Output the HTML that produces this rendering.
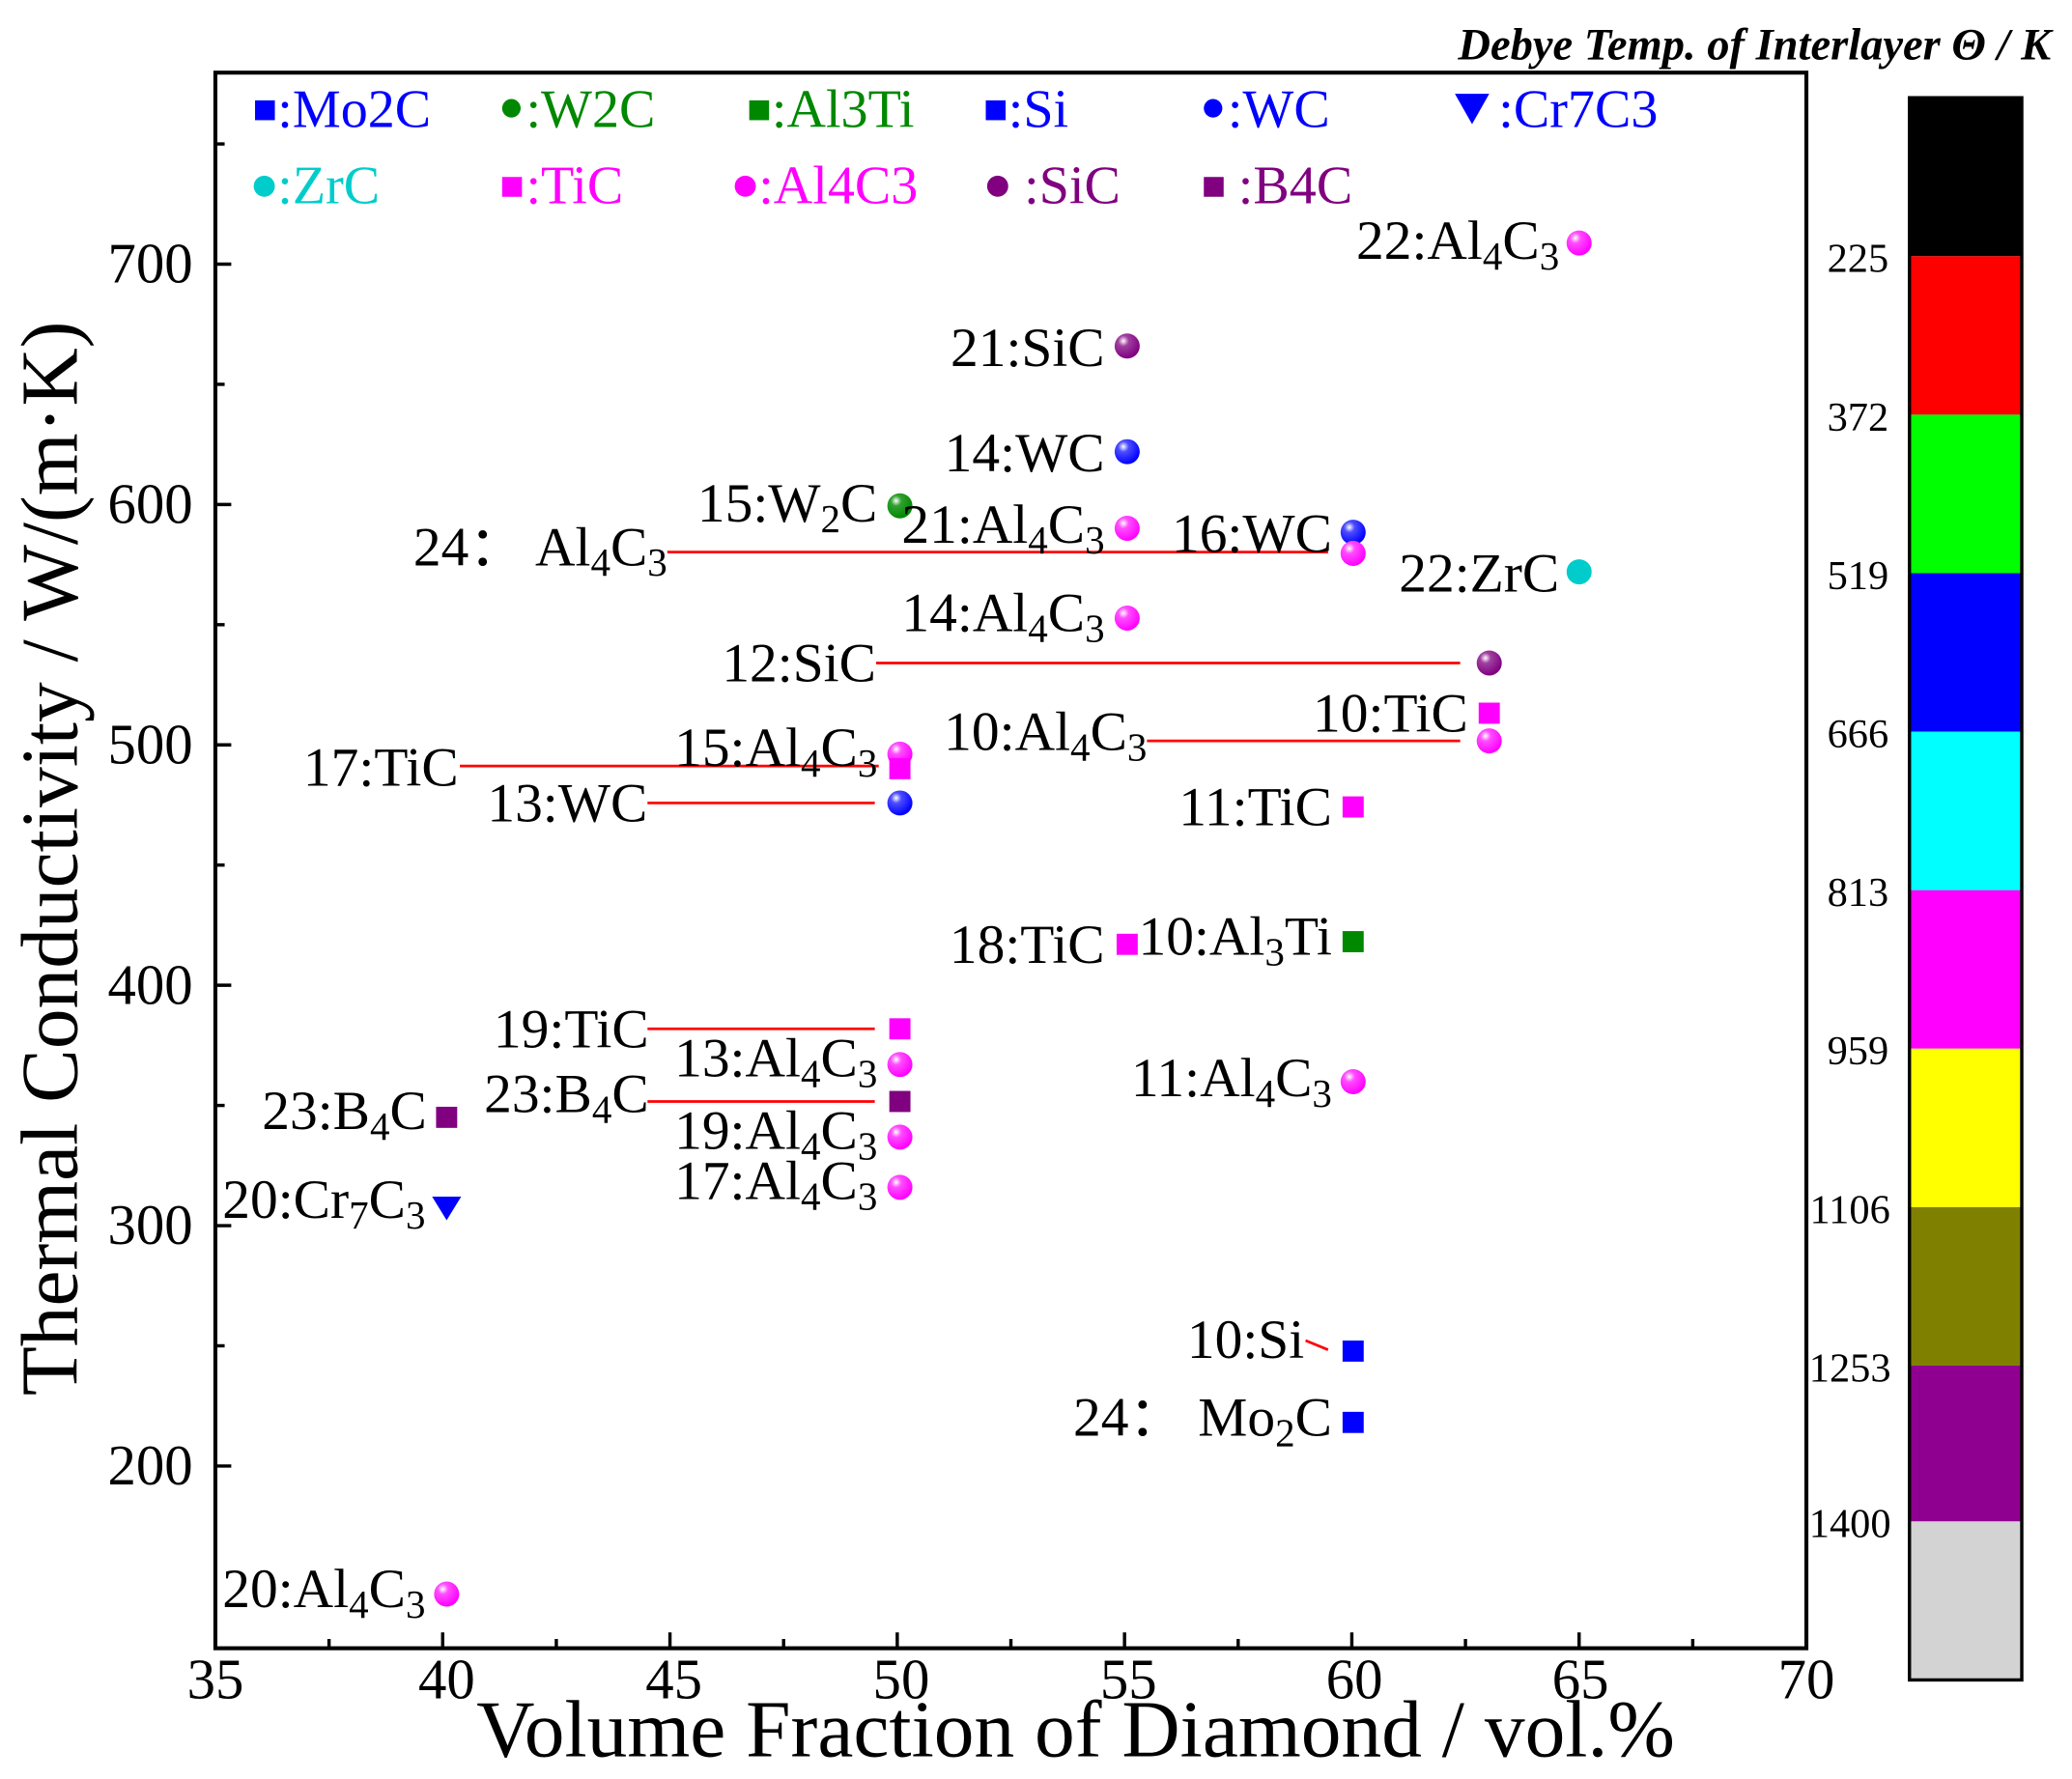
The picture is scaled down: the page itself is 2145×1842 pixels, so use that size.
<!DOCTYPE html>
<html><head><meta charset="utf-8"><style>
html,body{margin:0;padding:0;background:#fff}
svg{display:block}
text{font-family:"Liberation Serif",serif;fill:#000}
.l{font-size:42px;text-anchor:end}
.s{font-size:30px}
.lg{font-size:41px}
.t{font-size:43px}
.cb{font-size:31px;text-anchor:middle}
</style></head><body>
<svg width="2145" height="1842" viewBox="0 0 1568 1347" preserveAspectRatio="none" xmlns="http://www.w3.org/2000/svg">
<defs>
<radialGradient id="gm" cx="0.35" cy="0.3" r="0.7"><stop offset="0" stop-color="#fff"/><stop offset="0.3" stop-color="#ff4dff"/><stop offset="1" stop-color="#f0f"/></radialGradient>
<radialGradient id="gb" cx="0.35" cy="0.3" r="0.7"><stop offset="0" stop-color="#fff"/><stop offset="0.3" stop-color="#4d4dff"/><stop offset="1" stop-color="#00f"/></radialGradient>
<radialGradient id="gp" cx="0.35" cy="0.3" r="0.7"><stop offset="0" stop-color="#fff"/><stop offset="0.3" stop-color="#a040a0"/><stop offset="1" stop-color="#800080"/></radialGradient>
<radialGradient id="gg" cx="0.35" cy="0.3" r="0.7"><stop offset="0" stop-color="#fff"/><stop offset="0.3" stop-color="#30a030"/><stop offset="1" stop-color="#080"/></radialGradient>
</defs>
<rect x="163" y="55" width="1204" height="1193" fill="none" stroke="#000" stroke-width="3"/>
<g stroke="#000" stroke-width="2.5">
<line x1="163" y1="1248" x2="163" y2="1236"/><line x1="249" y1="1248" x2="249" y2="1241"/>
<line x1="335" y1="1248" x2="335" y2="1236"/><line x1="421" y1="1248" x2="421" y2="1241"/>
<line x1="507" y1="1248" x2="507" y2="1236"/><line x1="593" y1="1248" x2="593" y2="1241"/>
<line x1="679" y1="1248" x2="679" y2="1236"/><line x1="765" y1="1248" x2="765" y2="1241"/>
<line x1="851" y1="1248" x2="851" y2="1236"/><line x1="937" y1="1248" x2="937" y2="1241"/>
<line x1="1023" y1="1248" x2="1023" y2="1236"/><line x1="1109" y1="1248" x2="1109" y2="1241"/>
<line x1="1195" y1="1248" x2="1195" y2="1236"/><line x1="1281" y1="1248" x2="1281" y2="1241"/>
<line x1="163" y1="1110" x2="175" y2="1110"/><line x1="163" y1="1019" x2="170" y2="1019"/>
<line x1="163" y1="928" x2="175" y2="928"/><line x1="163" y1="837" x2="170" y2="837"/>
<line x1="163" y1="746" x2="175" y2="746"/><line x1="163" y1="655" x2="170" y2="655"/>
<line x1="163" y1="564" x2="175" y2="564"/><line x1="163" y1="473" x2="170" y2="473"/>
<line x1="163" y1="382" x2="175" y2="382"/><line x1="163" y1="291" x2="170" y2="291"/>
<line x1="163" y1="200" x2="175" y2="200"/><line x1="163" y1="109" x2="170" y2="109"/>
</g>
<g text-anchor="middle">
<text x="163" y="1286" class="t">35</text><text x="338" y="1286" class="t">40</text><text x="510" y="1286" class="t">45</text>
<text x="682" y="1286" class="t">50</text><text x="854" y="1286" class="t">55</text><text x="1025" y="1286" class="t">60</text>
<text x="1196" y="1286" class="t">65</text><text x="1367" y="1286" class="t">70</text>
</g>
<g text-anchor="end">
<text x="146" y="1124" class="t">200</text><text x="146" y="942" class="t">300</text><text x="146" y="760" class="t">400</text>
<text x="146" y="578" class="t">500</text><text x="146" y="396" class="t">600</text><text x="146" y="214" class="t">700</text>
</g>
<text x="814" y="1330" text-anchor="middle" font-size="61">Volume Fraction of Diamond / vol.%</text>
<text transform="translate(58,650) rotate(-90)" text-anchor="middle" font-size="61">Thermal Conductivity / W/(m·K)</text>

<g class="lg">
<rect x="193" y="76" width="15" height="15" fill="#00f"/><text x="210" y="96" style="fill:#00f">:Mo2C</text>
<circle cx="387" cy="82" r="7" fill="#080"/><text x="398" y="96" style="fill:#080">:W2C</text>
<rect x="567" y="76" width="15" height="15" fill="#080"/><text x="584" y="96" style="fill:#080">:Al3Ti</text>
<rect x="746" y="76" width="15" height="15" fill="#00f"/><text x="763" y="96" style="fill:#00f">:Si</text>
<circle cx="918" cy="82" r="7" fill="#00f"/><text x="929" y="96" style="fill:#00f">:WC</text>
<path d="M1101 71 L1127 71 L1114 94 Z" fill="#00f"/><text x="1134" y="96" style="fill:#00f">:Cr7C3</text>
<circle cx="200" cy="141" r="8" fill="#0cc"/><text x="210" y="154" style="fill:#0cc">:ZrC</text>
<rect x="380" y="134" width="15" height="15" fill="#f0f"/><text x="398" y="154" style="fill:#f0f">:TiC</text>
<circle cx="564" cy="141" r="8" fill="#f0f"/><text x="574" y="154" style="fill:#f0f">:Al4C3</text>
<circle cx="755" cy="141" r="8" fill="#800080"/><text x="775" y="154" style="fill:#800080">:SiC</text>
<rect x="911" y="134" width="15" height="15" fill="#800080"/><text x="937" y="154" style="fill:#800080">:B4C</text>
</g>

<g stroke="#f00" stroke-width="2">
<line x1="505" y1="418" x2="1005" y2="418"/>
<line x1="663" y1="502" x2="1105" y2="502"/>
<line x1="868" y1="561" x2="1105" y2="561"/>
<line x1="348" y1="580" x2="665" y2="580"/>
<line x1="490" y1="608" x2="662" y2="608"/>
<line x1="490" y1="779" x2="662" y2="779"/>
<line x1="490" y1="834" x2="662" y2="834"/>
<line x1="988" y1="1015" x2="1005" y2="1022"/>
</g>

<g>
<circle cx="1195" cy="184" r="9.5" fill="url(#gm)"/>
<circle cx="853" cy="262" r="9.5" fill="url(#gp)"/>
<circle cx="853" cy="342" r="9.5" fill="url(#gb)"/>
<circle cx="681" cy="383" r="9.5" fill="url(#gg)"/>
<circle cx="853" cy="400" r="9.5" fill="url(#gm)"/>
<circle cx="1024" cy="403" r="9.5" fill="url(#gb)"/>
<circle cx="1024" cy="419" r="9.5" fill="url(#gm)"/>
<circle cx="1195" cy="433" r="9.5" fill="#0cc"/>
<circle cx="853" cy="468" r="9.5" fill="url(#gm)"/>
<circle cx="1127" cy="502" r="9.5" fill="url(#gp)"/>
<rect x="1119" y="532" width="16" height="16" fill="#f0f"/>
<circle cx="1127" cy="561" r="9.5" fill="url(#gm)"/>
<circle cx="681" cy="571" r="9.5" fill="url(#gm)"/>
<rect x="673" y="574" width="16" height="16" fill="#f0f"/>
<circle cx="681" cy="608" r="9.5" fill="url(#gb)"/>
<rect x="1016" y="603" width="16" height="16" fill="#f0f"/>
<rect x="845" y="707" width="16" height="16" fill="#f0f"/>
<rect x="1016" y="705" width="16" height="16" fill="#080"/>
<rect x="673" y="771" width="16" height="16" fill="#f0f"/>
<circle cx="681" cy="806" r="9.5" fill="url(#gm)"/>
<rect x="673" y="826" width="16" height="16" fill="#800080"/>
<rect x="330" y="838" width="16" height="16" fill="#800080"/>
<circle cx="681" cy="861" r="9.5" fill="url(#gm)"/>
<circle cx="681" cy="899" r="9.5" fill="url(#gm)"/>
<path d="M327 906 L349 906 L338 924 Z" fill="#00f"/>
<circle cx="1024" cy="819" r="9.5" fill="url(#gm)"/>
<rect x="1016" y="1015" width="16" height="16" fill="#00f"/>
<rect x="1016" y="1069" width="16" height="16" fill="#00f"/>
<circle cx="338" cy="1207" r="9.5" fill="url(#gm)"/>
</g>

<g>
<text class="l" x="1180" y="196">22:Al<tspan class="s" dy="8">4</tspan><tspan dy="-8">C</tspan><tspan class="s" dy="8">3</tspan></text>
<text class="l" x="836" y="277">21:SiC</text>
<text class="l" x="836" y="357">14:WC</text>
<text class="l" x="664" y="395">15:W<tspan class="s" dy="8">2</tspan><tspan dy="-8">C</tspan></text>
<text class="l" x="836" y="411">21:Al<tspan class="s" dy="8">4</tspan><tspan dy="-8">C</tspan><tspan class="s" dy="8">3</tspan></text>
<text class="l" x="1008" y="418">16:WC</text>
<text class="l" x="505" y="428">24：  Al<tspan class="s" dy="8">4</tspan><tspan dy="-8">C</tspan><tspan class="s" dy="8">3</tspan></text>
<text class="l" x="1180" y="448">22:ZrC</text>
<text class="l" x="836" y="478">14:Al<tspan class="s" dy="8">4</tspan><tspan dy="-8">C</tspan><tspan class="s" dy="8">3</tspan></text>
<text class="l" x="663" y="516">12:SiC</text>
<text class="l" x="1111" y="554">10:TiC</text>
<text class="l" x="868" y="568">10:Al<tspan class="s" dy="8">4</tspan><tspan dy="-8">C</tspan><tspan class="s" dy="8">3</tspan></text>
<text class="l" x="664" y="580">15:Al<tspan class="s" dy="8">4</tspan><tspan dy="-8">C</tspan><tspan class="s" dy="8">3</tspan></text>
<text class="l" x="347" y="595">17:TiC</text>
<text class="l" x="490" y="622">13:WC</text>
<text class="l" x="1008" y="625">11:TiC</text>
<text class="l" x="836" y="729">18:TiC</text>
<text class="l" x="1008" y="723">10:Al<tspan class="s" dy="8">3</tspan><tspan dy="-8">Ti</tspan></text>
<text class="l" x="491" y="793">19:TiC</text>
<text class="l" x="664" y="815">13:Al<tspan class="s" dy="8">4</tspan><tspan dy="-8">C</tspan><tspan class="s" dy="8">3</tspan></text>
<text class="l" x="491" y="842">23:B<tspan class="s" dy="8">4</tspan><tspan dy="-8">C</tspan></text>
<text class="l" x="323" y="855">23:B<tspan class="s" dy="8">4</tspan><tspan dy="-8">C</tspan></text>
<text class="l" x="664" y="870">19:Al<tspan class="s" dy="8">4</tspan><tspan dy="-8">C</tspan><tspan class="s" dy="8">3</tspan></text>
<text class="l" x="664" y="908">17:Al<tspan class="s" dy="8">4</tspan><tspan dy="-8">C</tspan><tspan class="s" dy="8">3</tspan></text>
<text class="l" x="322" y="922">20:Cr<tspan class="s" dy="8">7</tspan><tspan dy="-8">C</tspan><tspan class="s" dy="8">3</tspan></text>
<text class="l" x="1008" y="830">11:Al<tspan class="s" dy="8">4</tspan><tspan dy="-8">C</tspan><tspan class="s" dy="8">3</tspan></text>
<text class="l" x="987" y="1028">10:Si</text>
<text class="l" x="1008" y="1087">24：  Mo<tspan class="s" dy="8">2</tspan><tspan dy="-8">C</tspan></text>
<text class="l" x="322" y="1217">20:Al<tspan class="s" dy="8">4</tspan><tspan dy="-8">C</tspan><tspan class="s" dy="8">3</tspan></text>
</g>

<text x="1552" y="45" text-anchor="end" font-size="34" font-weight="bold" font-style="italic">Debye Temp. of Interlayer Θ / K</text>
<g>
<rect x="1445" y="74" width="85" height="120" fill="#000"/>
<rect x="1445" y="194" width="85" height="120" fill="#f00"/>
<rect x="1445" y="314" width="85" height="120" fill="#0f0"/>
<rect x="1445" y="434" width="85" height="120" fill="#00f"/>
<rect x="1445" y="554" width="85" height="120" fill="#0ff"/>
<rect x="1445" y="674" width="85" height="120" fill="#f0f"/>
<rect x="1445" y="794" width="85" height="120" fill="#ff0"/>
<rect x="1445" y="914" width="85" height="120" fill="#808000"/>
<rect x="1445" y="1034" width="85" height="118" fill="#900090"/>
<rect x="1445" y="1152" width="85" height="120" fill="#d3d3d3"/>
<rect x="1445" y="74" width="85" height="1198" fill="none" stroke="#000" stroke-width="2.5"/>
</g>
<g>
<text class="cb" x="1406" y="206">225</text><text class="cb" x="1406" y="326">372</text><text class="cb" x="1406" y="446">519</text>
<text class="cb" x="1406" y="566">666</text><text class="cb" x="1406" y="686">813</text><text class="cb" x="1406" y="806">959</text>
<text class="cb" x="1400" y="926">1106</text><text class="cb" x="1400" y="1046">1253</text><text class="cb" x="1400" y="1164">1400</text>
</g>
</svg>
</body></html>
